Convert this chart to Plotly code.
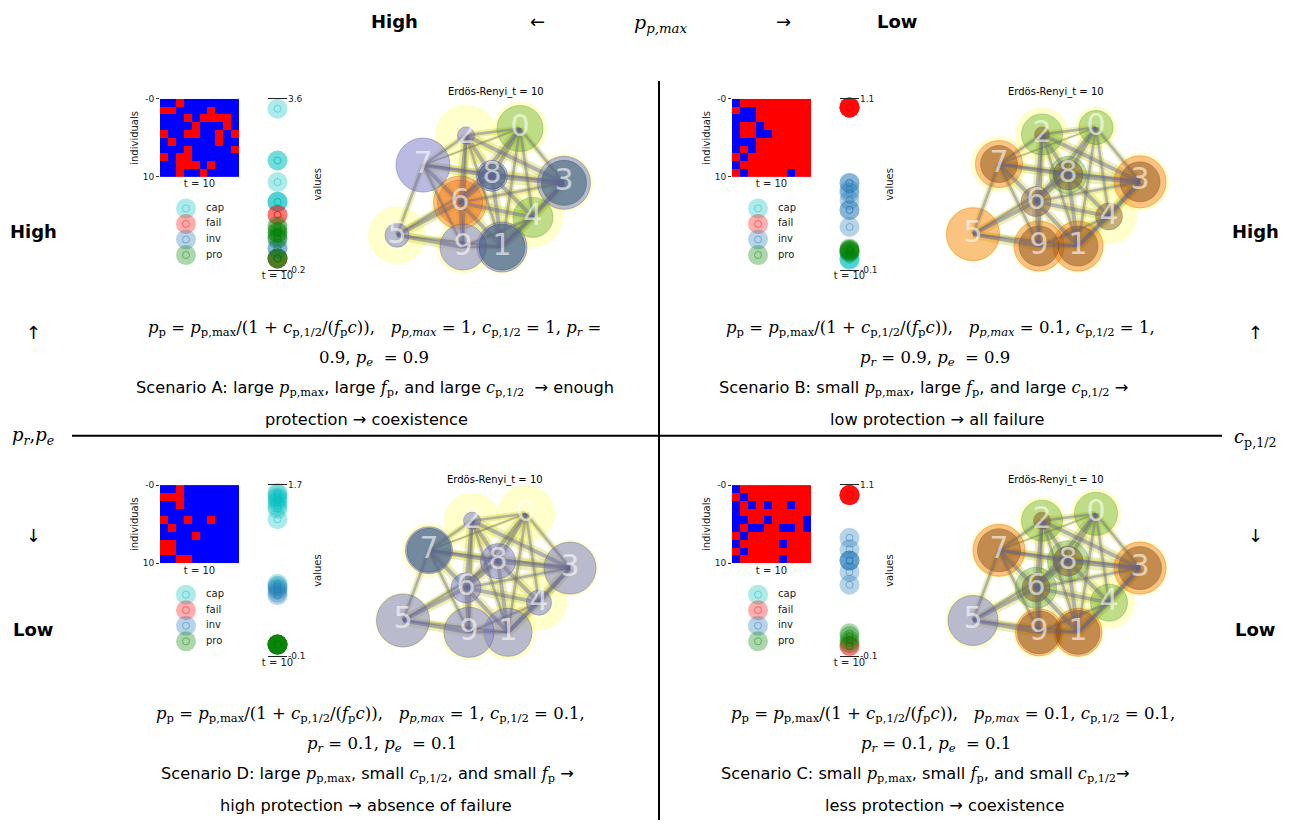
import plotly.graph_objects as go

W, H = 1290, 825

# ---------------------------------------------------------------- shared data
STATES = ["cap", "fail", "inv", "pro"]
HEAT_TICKS = ["-0", "10"]
NODE_LABELS = ["0", "1", "2", "3", "4", "5", "6", "7", "8", "9"]

# spring layout of the 10-node Erdős–Rényi graph
node_x = [0.40, 0.22, -0.14, 0.84, 0.53, -0.83, -0.20, -0.57, 0.12, -0.17]
node_y = [0.60, -0.60, 0.53, 0.05, -0.30, -0.48, -0.15, 0.23, 0.12, -0.60]

edge_u = [0, 0, 0, 0, 0, 0, 0, 2, 2, 2, 2, 2, 2, 7, 7, 7, 7, 7,
          5, 5, 5, 5, 6, 6, 6, 6, 8, 8, 8, 3, 3, 3, 4, 4, 9]
edge_v = [2, 3, 4, 1, 8, 6, 7, 7, 8, 3, 6, 9, 1, 5, 6, 8, 3, 9,
          6, 8, 9, 1, 9, 1, 8, 4, 3, 4, 1, 4, 1, 6, 1, 9, 1]
edge_w = [2, 2, 2, 2, 3, 3, 1, 2, 3, 3, 3, 2, 2, 2, 3, 3, 2, 2,
          3, 2, 3, 2, 3, 3, 3, 3, 4, 3, 3, 3, 3, 2, 3, 2, 2]

# ---------------------------------------------------------------- scenario A
grid_a = [
    [0, 0, 1, 0, 0, 0, 0, 0, 0, 0],
    [1, 1, 0, 0, 0, 0, 1, 0, 0, 0],
    [0, 0, 0, 1, 0, 1, 1, 1, 1, 0],
    [0, 0, 0, 0, 1, 0, 0, 0, 1, 0],
    [1, 0, 0, 1, 1, 0, 0, 1, 0, 1],
    [0, 1, 0, 0, 0, 0, 0, 1, 0, 0],
    [0, 0, 0, 1, 0, 0, 0, 0, 0, 1],
    [1, 0, 1, 1, 0, 0, 0, 0, 0, 0],
    [0, 0, 1, 1, 1, 0, 1, 0, 0, 0],
    [0, 0, 1, 0, 0, 1, 0, 0, 0, 0],
]
cap_a = [3.38, 2.23, 2.23, 1.75, 1.31, 1.31, 1.31]
fail_a = [1.02, 1.02, 0.05, 0.05]
inv_a = [0.27, 0.27, 0.49]
pro_a = [0.78, 0.72, 0.63, 0.63, 0.55, 0.49, 0.05, 0.05, 0.05]
range_a = [-0.2, 3.6]
halo_a = [54, 54, 62, 58, 60, 58, 58, 0, 0, 54]
ring_a = ["", "inv", "inv", "inv", "", "inv", "fail", "inv", "inv", "inv"]
ring_size_a = [0, 50, 17, 53, 0, 24, 53, 54, 31, 46]
core_a = ["pro", "cap", "", "cap", "pro", "", "fail", "", "cap", ""]
core_size_a = [46, 46, 0, 45, 40, 0, 45, 0, 27, 0]

# ---------------------------------------------------------------- scenario B
grid_b = [
    [0, 1, 1, 1, 1, 1, 1, 1, 1, 1],
    [1, 0, 0, 1, 1, 1, 1, 1, 1, 1],
    [0, 0, 0, 1, 1, 1, 1, 1, 1, 1],
    [0, 1, 1, 0, 1, 1, 1, 1, 1, 1],
    [0, 1, 1, 0, 0, 1, 1, 1, 1, 1],
    [0, 0, 0, 1, 1, 1, 1, 1, 1, 1],
    [0, 1, 0, 1, 1, 1, 1, 1, 1, 1],
    [1, 0, 1, 1, 1, 1, 1, 1, 1, 1],
    [0, 1, 1, 1, 1, 1, 1, 1, 1, 1],
    [1, 0, 1, 1, 1, 1, 1, 0, 1, 1],
]
cap_b = [-0.03, -0.03, -0.02]
fail_b = [1.04, 1.04, 1.04, 1.04, 1.04, 1.04, 1.04, 1.04]
inv_b = [0.51, 0.51, 0.46, 0.44, 0.39, 0.32, 0.32, 0.20]
pro_b = [0.05, 0.04, 0.04, 0.03, 0.03, 0.02]
range_b = [-0.1, 1.1]
halo_b = [42, 54, 54, 58, 56, 56, 0, 56, 0, 54]
ring_b = ["", "fail", "pro", "fail", "", "fail", "", "fail", "pro", "fail"]
ring_size_b = [0, 50, 41, 52, 0, 53, 0, 47, 37, 50]
core_b = ["pro", "fail_pro", "fail_pro", "fail_pro", "fail_pro", "", "fail_pro",
          "fail_pro", "fail_pro", "fail_pro"]
core_size_b = [34, 40, 15, 40, 27, 0, 30, 37, 30, 40]

# ---------------------------------------------------------------- scenario C
grid_c = [
    [0, 1, 1, 1, 1, 1, 1, 1, 1, 1],
    [1, 0, 1, 1, 1, 1, 1, 1, 1, 1],
    [0, 1, 0, 1, 0, 1, 1, 0, 1, 1],
    [0, 1, 1, 1, 1, 1, 1, 1, 1, 1],
    [0, 0, 1, 1, 0, 1, 1, 1, 1, 0],
    [0, 1, 0, 0, 1, 1, 0, 0, 1, 0],
    [1, 0, 1, 1, 1, 1, 1, 1, 1, 1],
    [0, 1, 1, 1, 1, 1, 0, 1, 1, 1],
    [1, 0, 1, 1, 1, 1, 1, 1, 1, 1],
    [0, 1, 1, 1, 1, 1, 0, 1, 1, 1],
]
cap_c = []
fail_c = [1.03, 1.03, 1.03, 1.03, 1.03, 1.03, 1.03, -0.03, -0.03]
inv_c = [0.73, 0.65, 0.57, 0.57, 0.57, 0.49, 0.40]
pro_c = [0.06, 0.04, 0.01, -0.01]
range_c = [-0.1, 1.1]
halo_c = [50, 52, 48, 56, 52, 56, 0, 56, 0, 52]
ring_c = ["pro", "fail", "pro", "fail", "", "inv", "pro", "fail", "pro", "fail"]
ring_size_c = [43, 48, 41, 52, 0, 50, 41, 52, 41, 47]
core_c = ["", "fail_pro", "fail_pro", "fail_pro", "pro", "", "fail_pro",
          "fail_pro", "fail_pro", "fail_pro"]
core_size_c = [0, 44, 17, 43, 37, 0, 28, 43, 30, 43]

# ---------------------------------------------------------------- scenario D
grid_d = [
    [0, 0, 1, 0, 0, 0, 0, 0, 0, 0],
    [1, 1, 1, 0, 0, 0, 0, 0, 0, 0],
    [0, 0, 1, 0, 0, 0, 0, 0, 0, 0],
    [0, 0, 0, 0, 0, 0, 0, 0, 0, 0],
    [1, 0, 0, 1, 0, 0, 1, 0, 0, 0],
    [0, 1, 0, 0, 0, 0, 0, 0, 0, 0],
    [0, 0, 0, 0, 1, 0, 0, 0, 0, 0],
    [1, 1, 0, 0, 0, 0, 0, 0, 0, 0],
    [1, 1, 0, 0, 0, 0, 0, 0, 0, 0],
    [0, 0, 1, 1, 0, 0, 0, 0, 0, 0],
]
cap_d = [1.62, 1.60, 1.57, 1.55, 1.52, 1.48, 1.45, 1.34, 0.66, 0.62]
fail_d = []
inv_d = [0.64, 0.60, 0.57, 0.54]
pro_d = [0.02, 0.02, 0.02, 0.02, 0.02, 0.02, 0.02, 0.02]
range_d = [-0.1, 1.7]
halo_d = [58, 56, 56, 56, 56, 56, 0, 54, 0, 56]
ring_d = ["", "inv", "inv", "inv", "inv", "inv", "inv", "inv", "inv", "inv"]
ring_size_d = [0, 48, 17, 52, 25, 53, 30, 47, 35, 50]
core_d = ["", "", "", "", "", "", "", "cap", "", ""]
core_size_d = [0, 0, 0, 0, 0, 0, 0, 44, 0, 0]

# ---------------------------------------------------------------- styles
SANS = "DejaVu Sans"
SERIF = "DejaVu Serif"
MPL = "DejaVu Sans"
SMALL = dict(family=MPL, size=10, color="#222")
TICK = dict(family=MPL, size=9, color="#222")

STRIP_COLOR = {"cap": "#00bfbf", "fail": "#ff0000", "inv": "#1f77b4", "pro": "#008000"}
NODE_FILL = {
    "inv": "rgba(140,140,208,0.85)",
    "pro": "rgba(90,170,30,0.55)",
    "fail": "rgba(245,110,20,0.58)",
    "fail_pro": "rgba(125,70,15,0.62)",
    "cap": "rgba(20,75,95,0.60)",
    "": "rgba(0,0,0,0)",
}
NODE_LINE = {
    "inv": "rgba(70,70,150,0.55)",
    "pro": "rgba(50,130,0,0.45)",
    "fail": "rgba(230,90,0,0.6)",
    "fail_pro": "rgba(110,60,10,0.45)",
    "cap": "rgba(20,60,80,0.55)",
    "": "rgba(0,0,0,0)",
}
HALO = "rgba(255,255,60,0.38)"
EDGE_YELLOW = "rgba(200,200,40,0.33)"
EDGE_GRAY = "rgba(95,95,150,0.42)"

fig = go.Figure()
axis_no = [0]


def new_axes(x0, x1, y0, y1, xa, ya):
    """Create an x/y axis pair whose domain is given in page pixels."""
    axis_no[0] += 1
    s = "" if axis_no[0] == 1 else str(axis_no[0])
    xa = dict(xa, domain=[x0 / W, x1 / W], anchor="y" + s)
    ya = dict(ya, domain=[1 - y1 / H, 1 - y0 / H], anchor="x" + s)
    fig.update_layout({"xaxis" + s: xa, "yaxis" + s: ya})
    return "x" + s, "y" + s


def hidden(rng):
    return dict(range=rng, visible=False, showgrid=False, zeroline=False, fixedrange=True)


def add_panel(ox, oy, net_c, grid, values, vrange, halo, ring, ring_size, core, core_size):
    # ---- individual x time heatmap
    xh, yh = new_axes(
        160 + ox, 239 + ox, 95 + oy, 174 + oy,
        dict(range=[-0.5, 9.5], showticklabels=False, ticks="", showgrid=False,
             zeroline=False, title=dict(text="t = 10", font=SMALL, standoff=3)),
        dict(range=[9.5, -0.5], tickvals=[-0.5, 9.5], ticktext=HEAT_TICKS,
             ticks="outside", ticklen=3, tickcolor="#333", tickfont=TICK,
             showgrid=False, zeroline=False,
             title=dict(text="individuals", font=SMALL, standoff=2)),
    )
    fig.add_trace(go.Heatmap(
        z=grid, colorscale=[[0, "#0000ff"], [1, "#ff0000"]], zmin=0, zmax=1,
        showscale=False, hoverinfo="skip", xaxis=xh, yaxis=yh))

    # ---- value strip
    xs, ys = new_axes(
        268 + ox, 287 + ox, 95 + oy, 268 + oy,
        dict(range=[-1, 1], showline=True, mirror=True, linecolor="#222", linewidth=1,
             showticklabels=False, ticks="", showgrid=False, zeroline=False,
             title=dict(text="t = 10", font=SMALL, standoff=2)),
        dict(range=vrange, side="right", tickvals=vrange, ticktext=[str(v) for v in vrange],
             ticks="", showgrid=False, zeroline=False, tickfont=TICK,
             title=dict(text="values", font=SMALL, standoff=9)),
    )
    for st, vals in zip(STATES, values):
        ys_ = vals if vals else [None]
        fig.add_trace(go.Scatter(
            x=[0] * len(ys_), y=ys_, mode="markers", cliponaxis=False, hoverinfo="skip",
            marker=dict(size=20, color=STRIP_COLOR[st], opacity=0.32, line=dict(width=0)),
            xaxis=xs, yaxis=ys, showlegend=False))
        fig.add_trace(go.Scatter(
            x=[0] * len(ys_), y=ys_, mode="markers", cliponaxis=False, hoverinfo="skip",
            marker=dict(size=7, symbol="circle-open", color=STRIP_COLOR[st], opacity=0.45,
                        line=dict(width=1)),
            xaxis=xs, yaxis=ys, showlegend=False))

    # ---- state key
    xl, yl = new_axes(176 + ox, 240 + ox, 198 + oy, 261 + oy, hidden([0, 64]), hidden([3.5, -0.5]))
    idx = list(range(len(STATES)))
    fig.add_trace(go.Scatter(
        x=[10] * len(STATES), y=idx, mode="markers", cliponaxis=False, hoverinfo="skip",
        marker=dict(size=20, color=[STRIP_COLOR[s] for s in STATES], opacity=0.32),
        xaxis=xl, yaxis=yl, showlegend=False))
    fig.add_trace(go.Scatter(
        x=[10] * len(STATES), y=idx, mode="markers", cliponaxis=False, hoverinfo="skip",
        marker=dict(size=7, symbol="circle-open", color=[STRIP_COLOR[s] for s in STATES],
                    opacity=0.45, line=dict(width=1)),
        xaxis=xl, yaxis=yl, showlegend=False))
    fig.add_trace(go.Scatter(
        x=[30] * len(STATES), y=idx, mode="text", text=STATES, textposition="middle right",
        textfont=SMALL, cliponaxis=False, hoverinfo="skip",
        xaxis=xl, yaxis=yl, showlegend=False))

    # ---- network
    cx, cy = net_c
    xn, yn = new_axes(cx - 120, cx + 120, cy - 100, cy + 100, hidden([-1.2, 1.2]), hidden([-1, 1]))
    common = dict(xaxis=xn, yaxis=yn, showlegend=False, hoverinfo="skip", cliponaxis=False)
    fig.add_trace(go.Scatter(
        x=node_x, y=node_y, mode="markers",
        marker=dict(size=halo, color=HALO, line=dict(width=0)), **common))
    for u, v, w in zip(edge_u, edge_v, edge_w):
        fig.add_trace(go.Scatter(
            x=[node_x[u], node_x[v]], y=[node_y[u], node_y[v]], mode="lines",
            line=dict(color=EDGE_YELLOW, width=3.2 * w), **common))
    for states, sizes in ((ring, ring_size), (core, core_size)):
        fig.add_trace(go.Scatter(
            x=node_x, y=node_y, mode="markers",
            marker=dict(size=sizes, color=[NODE_FILL[s] for s in states],
                        line=dict(width=1, color=[NODE_LINE[s] for s in states])),
            **common))
    for u, v, w in zip(edge_u, edge_v, edge_w):
        fig.add_trace(go.Scatter(
            x=[node_x[u], node_x[v]], y=[node_y[u], node_y[v]], mode="lines",
            line=dict(color=EDGE_GRAY, width=1.3 * w), **common))
    fig.add_trace(go.Scatter(
        x=node_x, y=node_y, mode="text", text=NODE_LABELS,
        textfont=dict(family=MPL, size=30, color="rgba(255,255,255,0.6)"), **common))


add_panel(0, 0, (480, 185), grid_a, [cap_a, fail_a, inv_a, pro_a], range_a,
          halo_a, ring_a, ring_size_a, core_a, core_size_a)
add_panel(572, 0, (1056, 184), grid_b, [cap_b, fail_b, inv_b, pro_b], range_b,
          halo_b, ring_b, ring_size_b, core_b, core_size_b)
add_panel(0, 391, (486, 575), grid_d, [cap_d, fail_d, inv_d, pro_d], range_d,
          halo_d, ring_d, ring_size_d, core_d, core_size_d)
add_panel(572, 391, (1056, 575), grid_c, [cap_c, fail_c, inv_c, pro_c], range_c,
          halo_c, ring_c, ring_size_c, core_c, core_size_c)

# ---------------------------------------------------------------- text
annotations = []


def note(px, py, text, family=SANS, size=16, bold=False):
    if bold:
        text = "<b>" + text + "</b>"
    annotations.append(dict(
        x=px / W, y=1 - py / H, xref="paper", yref="paper", text=text, showarrow=False,
        xanchor="center", yanchor="middle", font=dict(family=family, size=size, color="#000")))


def M(s):
    return '<span style="font-family:%s">%s</span>' % (SERIF, s)


PP = "<i>p</i><sub>p</sub>"
PPMAX = "<i>p</i><sub>p,max</sub>"
C12 = "<i>c</i><sub>p,1/2</sub>"
FP = "<i>f</i><sub>p</sub>"
PPMAX_I = "<i>p<sub>p,max</sub></i>"
PR = "<i>p<sub>r</sub></i>"
PE = "<i>p<sub>e</sub></i>"
FORMULA = f"{PP} = {PPMAX}/(1 + {C12}/({FP}<i>c</i>)),&nbsp;&nbsp;&nbsp;"

# Erdős–Rényi titles
for px, py in ((496, 88), (1056, 88), (495, 481), (1056, 481)):
    note(px, py, "Erdös-Renyi_t = 10", family=MPL, size=10)

# scenario descriptions
lines_a = [
    FORMULA + f"{PPMAX_I} = 1, {C12} = 1, {PR} =",
    f"0.9, {PE}&nbsp;&nbsp;= 0.9",
    f"Scenario A: large {M(PPMAX)}, large {M(FP)}, and large {M(C12)}&nbsp;&nbsp;→ enough",
    "protection → coexistence",
]
lines_b = [
    FORMULA + f"{PPMAX_I} = 0.1, {C12} = 1,",
    f"{PR} = 0.9, {PE}&nbsp;&nbsp;= 0.9",
    f"Scenario B: small {M(PPMAX)}, large {M(FP)}, and large {M(C12)} →",
    "low protection → all failure",
]
lines_d = [
    FORMULA + f"{PPMAX_I} = 1, {C12} = 0.1,",
    f"{PR} = 0.1, {PE}&nbsp;&nbsp;= 0.1",
    f"Scenario D: large {M(PPMAX)}, small {M(C12)}, and small {M(FP)} →",
    "high protection → absence of failure",
]
lines_c = [
    FORMULA + f"{PPMAX_I} = 0.1, {C12} = 0.1,",
    f"{PR} = 0.1, {PE}&nbsp;&nbsp;= 0.1",
    f"Scenario C: small {M(PPMAX)}, small {M(FP)}, and small {M(C12)}→",
    "less protection → coexistence",
]

for lines, xs, y0 in (
    (lines_a, [374, 374, 375, 366], 327),
    (lines_b, [940, 935, 923, 937], 327),
    (lines_d, [370, 382, 367, 366], 718),
    (lines_c, [953, 936, 925, 944], 718),
):
    for i, (txt, px) in enumerate(zip(lines, xs)):
        note(px, y0 + i * 30.7, txt, family=SERIF if i < 2 else SANS, size=16.5 if i < 2 else 16.2)

# axis captions around the grid of scenarios
note(394, 17, "High", family=MPL, size=18, bold=True)
note(537, 17, "←", family=MPL, size=18)
note(660, 19, "<i>p<sub>p,max</sub></i>", family=SERIF, size=19)
note(783, 17, "→", family=MPL, size=18)
note(897, 17, "Low", family=MPL, size=18, bold=True)
for px in (33, 1255):
    note(px, 229, "High", family=MPL, size=18, bold=True)
    note(px, 332, "↑", family=MPL, size=18)
    note(px, 537, "↓", family=MPL, size=18)
    note(px, 632, "Low", family=MPL, size=18, bold=True)
note(33, 436, f"{PR},{PE}", family=SERIF, size=18)
note(1255, 438, C12, family=SERIF, size=18)

shapes = [
    dict(type="line", xref="paper", yref="paper", x0=659 / W, x1=659 / W,
         y0=1 - 77 / H, y1=0, line=dict(color="#000", width=2)),
    dict(type="line", xref="paper", yref="paper", x0=72 / W, x1=1222 / W,
         y0=1 - 436 / H, y1=1 - 436 / H, line=dict(color="#000", width=2)),
]

fig.update_layout(
    width=W, height=H, autosize=False,
    margin=dict(l=0, r=0, t=0, b=0, pad=0),
    paper_bgcolor="white", plot_bgcolor="rgba(0,0,0,0)",
    showlegend=False, hovermode=False,
    annotations=annotations, shapes=shapes,
)

fig.write_html("out.html")
